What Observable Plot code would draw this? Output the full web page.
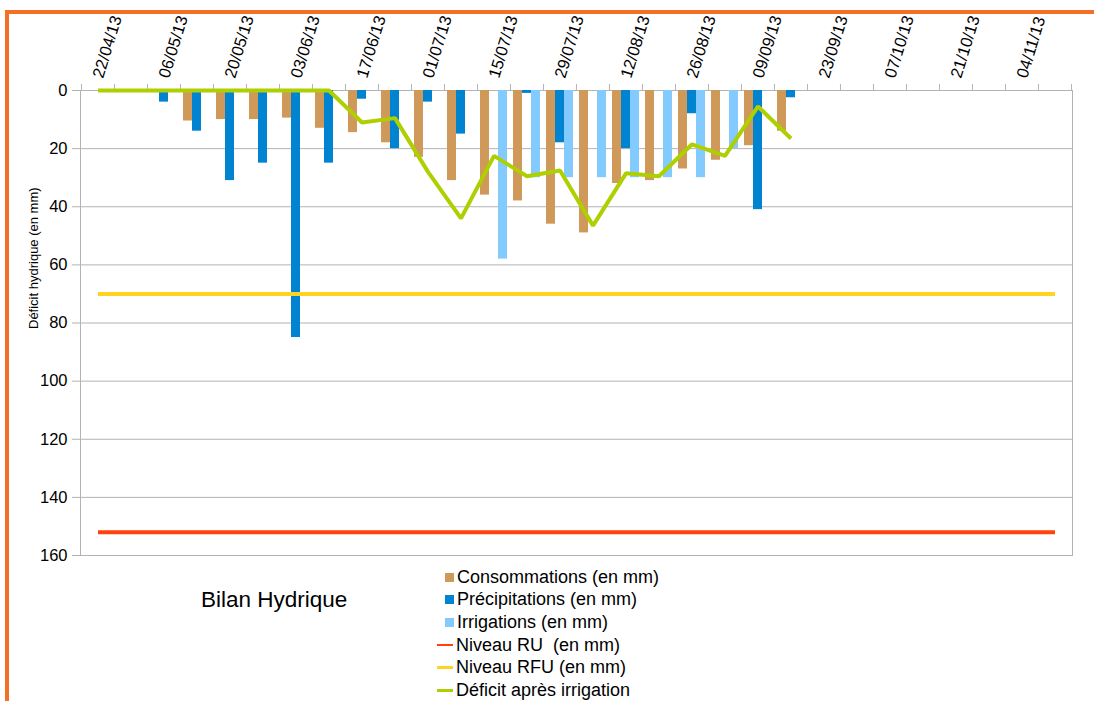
<!DOCTYPE html>
<html><head><meta charset="utf-8">
<script src="https://cdn.jsdelivr.net/npm/d3@7"></script>
<script src="https://cdn.jsdelivr.net/npm/@observablehq/plot@0.6"></script>
<style>
html,body{margin:0;padding:0;background:#fff;}
body{width:1094px;height:701px;position:relative;overflow:hidden;font-family:"Liberation Sans",Arial,sans-serif;color:#000;}
#frame{position:absolute;left:5px;top:10px;width:1089px;height:691px;border-left:4px solid #f36f24;border-top:4px solid #f36f24;box-sizing:border-box;z-index:2;pointer-events:none;}
#chart{position:absolute;left:0;top:0;}
#title{position:absolute;left:201px;top:589px;font-size:22.5px;line-height:1;white-space:nowrap;}
#legend{position:absolute;left:437px;top:566px;}
.item{height:22.6px;display:flex;align-items:center;font-size:18px;white-space:pre;}
.sw{width:9px;height:9px;margin-left:8px;margin-right:3px;}
.ln{width:16px;height:2.5px;margin-right:3px;}
</style></head><body>
<div id="frame"></div>
<div id="chart"></div>
<div id="title"></div>
<div id="legend"></div>
<script>
const dates = ["22/04/13","29/04/13","06/05/13","13/05/13","20/05/13","27/05/13","03/06/13","10/06/13","17/06/13","24/06/13","01/07/13","08/07/13","15/07/13","22/07/13","29/07/13","05/08/13","12/08/13","19/08/13","26/08/13","02/09/13","09/09/13","16/09/13","23/09/13","30/09/13","07/10/13","14/10/13","21/10/13","28/10/13","04/11/13","11/11/13"];
const tickLabels = ["22/04/13","06/05/13","20/05/13","03/06/13","17/06/13","01/07/13","15/07/13","29/07/13","12/08/13","26/08/13","09/09/13","23/09/13","07/10/13","21/10/13","04/11/13"];
const consommations = [null,null,null,10.5,10,10,9.5,13,14.5,18,23,31,36,38,46,49,32,31,27,24,19,14,null,null,null,null,null,null,null,null];
const precipitations = [null,null,4,14,31,25,85,25,3,20,4,15,null,1,18,null,20,null,8,null,41,2.5,null,null,null,null,null,null,null,null];
const irrigations = [null,null,null,null,null,null,null,null,null,null,null,null,58,30,30,30,30,30,30,20,null,null,null,null,null,null,null,null,null,null];
const deficit = [0,0,0,0,0,0,0,0,11,9.5,28,44,22.5,29.5,27.5,46.5,28.5,29.5,18.5,22.5,5.5,16.5];
const niveauRU = 152;
const niveauRFU = 70;
const yTicks = [0,20,40,60,80,100,120,140,160];
const yTitle = "Déficit hydrique (en mm)";
const chartTitle = "Bilan Hydrique";
const series = [
  {name:"Consommations (en mm)", color:"#cf995a", kind:"bar"},
  {name:"Précipitations (en mm)", color:"#0084d1", kind:"bar"},
  {name:"Irrigations (en mm)", color:"#83caff", kind:"bar"},
  {name:"Niveau RU  (en mm)", color:"#ff420e", kind:"line"},
  {name:"Niveau RFU (en mm)", color:"#ffd320", kind:"line"},
  {name:"Déficit après irrigation", color:"#aecf00", kind:"line"}
];

const W = 1094, H = 572, mL = 80, mR = 22, mT = 90, mB = 17;
const step = (W - mL - mR) / dates.length;
const barW = 9;
const pIn = 1 - barW / step;

const grid = "#b3b3b3";
const chart = Plot.plot({
  width: W, height: H,
  marginTop: mT, marginBottom: mB, marginLeft: mL, marginRight: mR,
  style: {fontFamily: "'Liberation Sans', Arial, sans-serif", fontSize: "16px", background: "transparent", color: "#000"},
  x: {type: "band", domain: dates, paddingInner: pIn, paddingOuter: pIn / 2, axis: null},
  y: {domain: [0, 160], reverse: true, axis: null},
  marks: [
    Plot.gridY(yTicks, {stroke: grid, strokeOpacity: 1}),
    Plot.frame({stroke: grid}),
    Plot.axisY(yTicks, {anchor: "left", tickSize: 8, tickPadding: 5, stroke: grid, fill: "#000", fontSize: 16.5, label: null, tickFormat: d => String(d)}),
    Plot.axisX(dates, {anchor: "top", tickSize: 7, stroke: grid, tickFormat: () => "", dx: -step / 2, label: null}),
    Plot.axisX(dates.slice(-1), {anchor: "top", tickSize: 7, stroke: grid, tickFormat: () => "", dx: step / 2, label: null}),
    Plot.text(tickLabels, {x: d => d, text: d => d, frameAnchor: "top", dy: -13, rotate: -73, textAnchor: "start", lineAnchor: "middle", fontSize: 16.5, fill: "#000"}),
    Plot.text([yTitle], {text: d => d, frameAnchor: "left", dx: -47, dy: 6, rotate: -90, fontSize: 13, fill: "#000"}),
    Plot.barY(dates, {x: d => d, y1: 0, y2: (d, i) => consommations[i], fill: series[0].color, dx: -barW}),
    Plot.barY(dates, {x: d => d, y1: 0, y2: (d, i) => precipitations[i], fill: series[1].color}),
    Plot.barY(dates, {x: d => d, y1: 0, y2: (d, i) => irrigations[i], fill: series[2].color, dx: barW}),
    Plot.lineY(dates, {x: d => d, y: () => niveauRU, stroke: series[3].color, strokeWidth: 4, strokeLinecap: "butt"}),
    Plot.lineY(dates, {x: d => d, y: () => niveauRFU, stroke: series[4].color, strokeWidth: 4, strokeLinecap: "butt"}),
    Plot.lineY(deficit, {x: (d, i) => dates[i], y: d => d, stroke: series[5].color, strokeWidth: 4, strokeLinecap: "butt", strokeLinejoin: "miter"})
  ]
});
document.getElementById("chart").appendChild(chart);
document.getElementById("title").textContent = chartTitle;
const leg = document.getElementById("legend");
for (const s of series) {
  const row = document.createElement("div");
  row.className = "item";
  const m = document.createElement("span");
  m.className = s.kind === "bar" ? "sw" : "ln";
  m.style.background = s.color;
  row.appendChild(m);
  const t = document.createElement("span");
  t.textContent = s.name;
  row.appendChild(t);
  leg.appendChild(row);
}
</script>
</body></html>
